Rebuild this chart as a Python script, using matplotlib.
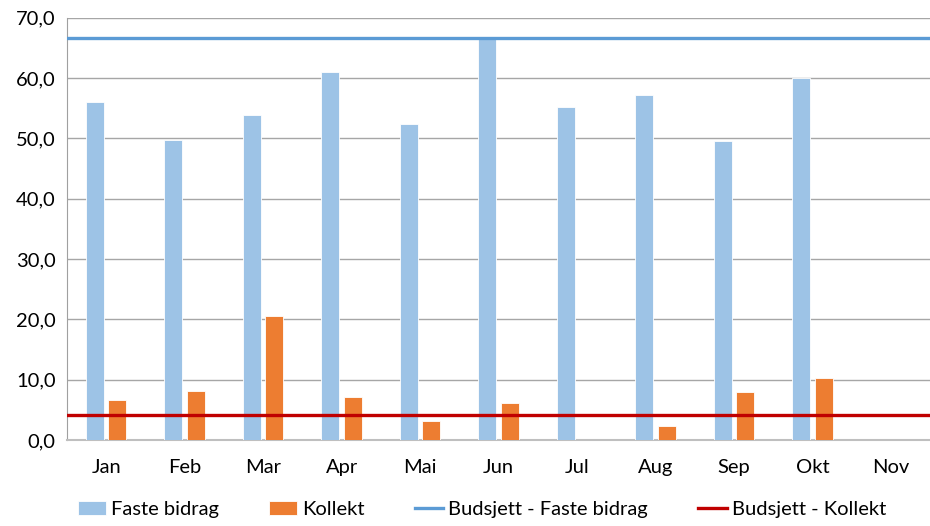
import matplotlib
matplotlib.use("Agg")
import matplotlib.pyplot as plt
import numpy as np
from matplotlib.ticker import FuncFormatter, MultipleLocator

months = ["Jan", "Feb", "Mar", "Apr", "Mai", "Jun", "Jul", "Aug", "Sep", "Okt", "Nov"]
faste_bidrag = [56.0, 49.8, 53.8, 61.0, 52.4, 66.5, 55.2, 57.1, 49.6, 60.0, np.nan]
kollekt = [6.7, 8.1, 20.5, 7.1, 3.1, 6.2, np.nan, 2.3, 8.0, 10.2, np.nan]
budsjett_faste = 66.7
budsjett_kollekt = 4.2

plt.rcParams['font.family'] = ['Lato', 'DejaVu Sans']

fig = plt.figure(figsize=(9.3, 5.26), dpi=100)
ax = fig.add_axes([0.072, 0.1635, 0.928, 0.803])

x = np.arange(len(months))
bw = 0.23
off = 0.143
ax.bar(x - off, faste_bidrag, bw, color="#9dc3e6", edgecolor="white", linewidth=0.6, label="Faste bidrag", zorder=3)
ax.bar(x + off, kollekt, bw, color="#ed7d31", edgecolor="white", linewidth=0.6, label="Kollekt", zorder=3)
ax.axhline(budsjett_faste, color="#5b9bd5", lw=2.4, label="Budsjett - Faste bidrag", zorder=4)
ax.axhline(budsjett_kollekt, color="#c00000", lw=2.4, label="Budsjett - Kollekt", zorder=4)

ax.set_xlim(-0.5, len(months) - 0.5)
ax.set_ylim(0, 70)
ax.yaxis.set_major_locator(MultipleLocator(10))
ax.yaxis.set_major_formatter(FuncFormatter(lambda v, p: f"{v:.1f}".replace(".", ",")))
ax.set_xticks(x)
ax.set_xticklabels(months)
ax.tick_params(axis='both', length=0, labelsize=14.5, colors="#000000")
ax.tick_params(axis='x', pad=14)
ax.tick_params(axis='y', pad=8)
ax.grid(axis='y', color="#a6a6a6", lw=1.0, zorder=0)
for s in ["top", "right"]:
    ax.spines[s].set_visible(False)
ax.spines["left"].set_color("#a0a0a0")
ax.spines["bottom"].set_color("#bfbfbf")
ax.spines["bottom"].set_linewidth(1.5)

handles, labels = ax.get_legend_handles_labels()
hl = dict(zip(labels, handles))
names = ["Faste bidrag", "Kollekt", "Budsjett - Faste bidrag", "Budsjett - Kollekt"]
fig.legend([hl[n] for n in names], names, loc="lower center", bbox_to_anchor=(0.518, -0.02),
           ncol=4, frameon=False, fontsize=14.5, handlelength=1.4, columnspacing=2.5, handletextpad=0.25)

fig.savefig("out.png", dpi=100)
